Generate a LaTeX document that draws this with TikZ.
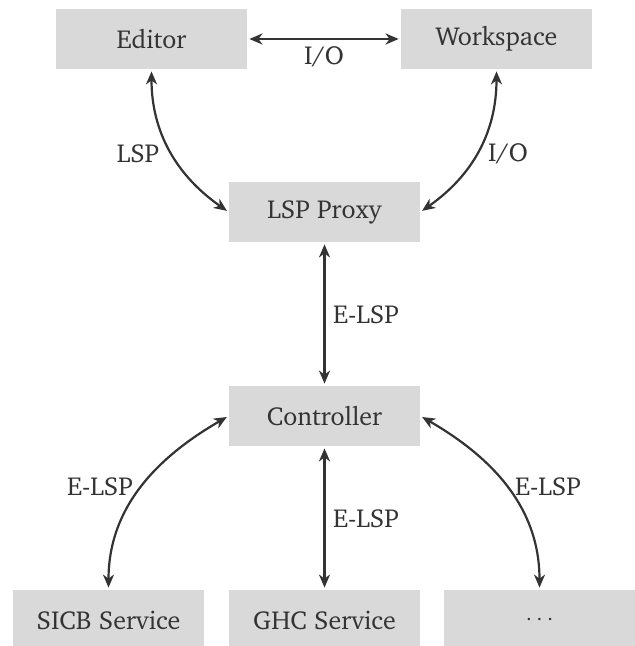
\documentclass[tikz,border=0pt]{standalone}
\usepackage[T1]{fontenc}
\usepackage{charter}
\usetikzlibrary{arrows.meta}
\definecolor{boxgray}{HTML}{D9D9D9}
\definecolor{ink}{HTML}{333333}
\begin{document}
\begin{tikzpicture}[x=0.5pt,y=-0.5pt,
  box/.style={fill=boxgray, minimum width=95.5pt, minimum height=30pt,
    inner sep=0pt, text=ink, font=\fontsize{13}{15}\selectfont},
  lbl/.style={text=ink, inner sep=0pt, font=\fontsize{13}{15}\selectfont},
  link/.style={draw=ink, line width=1.1pt,
    {Stealth[length=6.5pt,width=5.5pt,inset=2pt]}-{Stealth[length=6.5pt,width=5.5pt,inset=2pt]},
    shorten <=1pt, shorten >=1pt}]
\useasboundingbox (0,0) rectangle (635,646);
\clip (0,0) rectangle (635,646);

% boxes
\node[box] (ed)   at (151.5,39)  {Editor};
\node[box] (ws)   at (496.5,39)  {Workspace};
\node[box] (px)   at (324.5,212) {LSP Proxy};
\node[box] (ct)   at (324.5,416) {Controller};
\node[box] (sicb) at (108.5,620) {SICB Service};
\node[box] (ghc)  at (324.5,620) {GHC Service};
\node[box] (more) at (539.5,620) {$\cdots$};

% connectors
\draw[link] (ed) -- (ws);
\draw[link] (ed.south) to[out=-90,in=145] (px.west);
\draw[link] (ws.south) to[out=-90,in=35] (px.east);
\draw[link] (px) -- (ct);
\draw[link] (sicb.north) to[out=90,in=210] (ct.west);
\draw[link] (ghc) -- (ct);
\draw[link] (more.north) to[out=90,in=-30] (ct.east);

% labels
\node[lbl] (l1) at (324,57)  {I/O};
\node[lbl] (l2) at (138,154) {LSP};
\node[lbl] (l3) at (508,154) {I/O};
\node[lbl] (l4) at (366,315) {E-LSP};
\node[lbl] (l5) at (100,487) {E-LSP};
\node[lbl] (l6) at (366,519) {E-LSP};
\node[lbl] (l7) at (548,487) {E-LSP};
\end{tikzpicture}
\end{document}
